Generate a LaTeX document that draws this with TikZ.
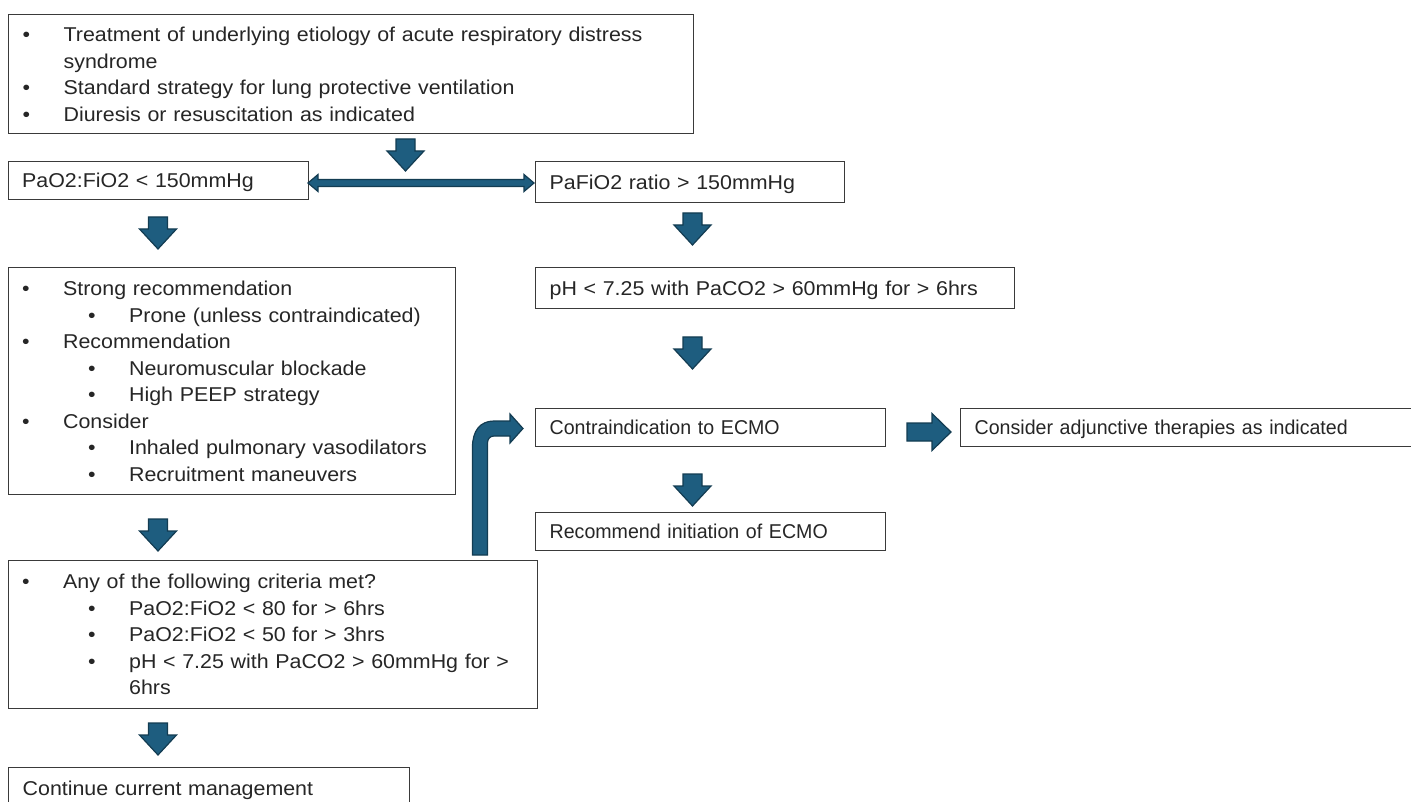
\documentclass[tikz,border=0pt]{standalone}
\usepackage{fontspec}
\setmainfont{Liberation Sans}[FakeStretch=1.07, WordSpace=0.8]
\newfontfamily\narrowfam{Liberation Sans}[FakeStretch=0.98]
\definecolor{arrfill}{HTML}{1E5D7F}
\definecolor{arrline}{HTML}{133C52}
\definecolor{boxline}{HTML}{3A3A3A}
\definecolor{txt}{HTML}{262626}
\newcommand\bi[1]{\makebox[41pt][l]{\textbullet}#1}
\newcommand\bii[1]{\hspace*{66pt}\makebox[41pt][l]{\textbullet}#1}
\begin{document}
\begin{tikzpicture}[x=1pt,y=-1pt,
  box/.style={draw=boxline, line width=1.3pt, fill=white, inner xsep=14pt, inner ysep=0pt,
    align=left, anchor=north west, text=txt, font={\fontsize{20}{26.5}\selectfont}},
  nbox/.style={box, font={\narrowfam\fontsize{20}{26.5}\selectfont}},
  one/.style={text height=15pt, text depth=1pt},
  blk/.style={fill=arrfill, draw=arrline, line width=1.2pt, line join=miter},
  darr/.pic={\path[blk] (-9.5,0) -- (9.5,0) -- (9.5,12) -- (18.5,12) -- (0,32) -- (-18.5,12) -- (-9.5,12) -- cycle;},
  rarr/.pic={\path[blk] (0,-9) -- (25,-9) -- (25,-18.5) -- (44,0) -- (25,18.5) -- (25,9) -- (0,9) -- cycle;}
]
\useasboundingbox (0,0) rectangle (1411,802);

\node[box, text width=657pt, minimum height=119pt] (top) at (8,14)
  {\bi{Treatment of underlying etiology of acute respiratory distress}\\
   \hspace*{41pt}syndrome\\
   \bi{Standard strategy for lung protective ventilation}\\
   \bi{Diuresis or resuscitation as indicated}};

\node[box, one, text width=272pt, minimum height=38pt] (L1) at (7.5,161) {PaO2:FiO2 < 150mmHg};
\node[box, one, text width=281pt, minimum height=41pt] (R1) at (535,161) {PaFiO2 ratio > 150mmHg};

\node[box, text width=419pt, minimum height=227pt] (L2) at (7.5,267)
  {\bi{Strong recommendation}\\
   \bii{Prone (unless contraindicated)}\\
   \bi{Recommendation}\\
   \bii{Neuromuscular blockade}\\
   \bii{High PEEP strategy}\\
   \bi{Consider}\\
   \bii{Inhaled pulmonary vasodilators}\\
   \bii{Recruitment maneuvers}};

\node[box, one, text width=451pt, minimum height=41pt] (R2) at (535,267) {pH < 7.25 with PaCO2 > 60mmHg for > 6hrs};

\node[nbox, one, text width=322pt, minimum height=38pt] (R3) at (535,408) {Contraindication to ECMO};
\node[nbox, one, text width=442pt, minimum height=38pt] (R4) at (960,408) {Consider adjunctive therapies as indicated};
\node[nbox, one, text width=322pt, minimum height=38pt] (R5) at (535,512) {Recommend initiation of ECMO};

\node[box, text width=501pt, minimum height=148pt] (L3) at (7.5,560)
  {\bi{Any of the following criteria met?}\\
   \bii{PaO2:FiO2 < 80 for > 6hrs}\\
   \bii{PaO2:FiO2 < 50 for > 3hrs}\\
   \bii{pH < 7.25 with PaCO2 > 60mmHg for >}\\
   \hspace*{107pt}6hrs};

\node[box, one, text width=373pt, minimum height=42pt] (L4) at (8,767) {Continue current management};

% block arrows
\pic at (405.5,139) {darr};
\pic at (158,217) {darr};
\pic at (692.5,213) {darr};
\pic at (692.5,337) {darr};
\pic at (158,519) {darr};
\pic at (692.5,474) {darr};
\pic at (158,723) {darr};
\pic at (907,432) {rarr};

% double arrow between L1 and R1
\path[blk] (308,183) -- (318,174.5) -- (318,179.5) -- (524,179.5) -- (524,174.5) -- (534,183) -- (524,191.5) -- (524,186.5) -- (318,186.5) -- (318,191.5) -- cycle;

% bent arrow from L3 to R3
\path[blk] (472.5,555) -- (472.5,447) .. controls (472.5,431) and (480,421) .. (494,421) -- (510,421) -- (510,414) -- (523,428.5) -- (510,443) -- (510,436) -- (494,436) .. controls (490,436) and (487.5,439) .. (487.5,443) -- (487.5,555) -- cycle;
\end{tikzpicture}
\end{document}
